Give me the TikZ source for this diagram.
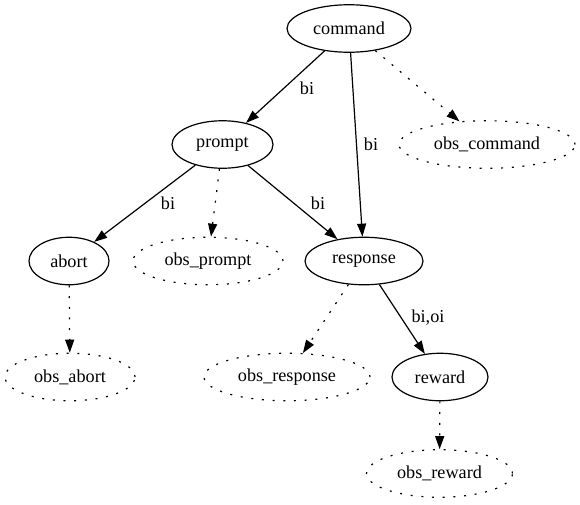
\documentclass[tikz,border=0pt]{standalone}
\usepackage{fontspec}
\setmainfont{Liberation Serif}
\usetikzlibrary{shapes.geometric,arrows.meta}
\tikzset{
  x=1pt, y=-1pt,
  every node/.style={font=\fontsize{18.2}{20}\selectfont},
  st/.style={ellipse, draw, line width=1.2pt, inner sep=0pt, minimum height=47.5pt},
  obs/.style={st, dash pattern=on 2pt off 8.7pt},
  edge/.style={line width=1.2pt, -{Triangle[length=13pt,width=9pt]}},
  obsedge/.style={edge, dash pattern=on 2pt off 8.7pt},
  lbl/.style={inner sep=0pt}
}
\begin{document}
\begin{tikzpicture}
\useasboundingbox (0,0) rectangle (580,504);
\node[st, minimum width=124pt] (command) at (349,28.5) {command};
\node[st, minimum width=101pt] (prompt) at (222.5,144.5) {prompt};
\node[obs, minimum width=176pt] (obscommand) at (487,144.5) {obs\_command};
\node[st, minimum width=80pt] (abort) at (69,261) {abort};
\node[obs, minimum width=150pt] (obsprompt) at (208,261) {obs\_prompt};
\node[st, minimum width=118pt] (response) at (364,261) {response};
\node[obs, minimum width=130pt] (obsabort) at (70,377) {obs\_abort};
\node[obs, minimum width=166pt] (obsresponse) at (287,377) {obs\_response};
\node[st, minimum width=96pt] (reward) at (440,377) {reward};
\node[obs, minimum width=146pt] (obsreward) at (439.5,473.5) {obs\_reward};

\draw[edge] (command) -- (prompt);
\draw[edge] (command) -- (response);
\draw[obsedge] (command) -- (obscommand);
\draw[edge] (prompt) -- (abort);
\draw[obsedge] (prompt) -- (obsprompt);
\draw[edge] (prompt) -- (response);
\draw[obsedge] (abort) -- (obsabort);
\draw[obsedge] (response) -- (obsresponse);
\draw[edge] (response) -- (reward);
\draw[obsedge] (reward) -- (obsreward);

\node[lbl] (l1) at (307,88) {bi};
\node[lbl] (l2) at (371,144) {bi};
\node[lbl] (l3) at (168,203) {bi};
\node[lbl] (l4) at (318,203) {bi};
\node[lbl] (l5) at (428,318) {bi,oi};
\end{tikzpicture}
\end{document}
